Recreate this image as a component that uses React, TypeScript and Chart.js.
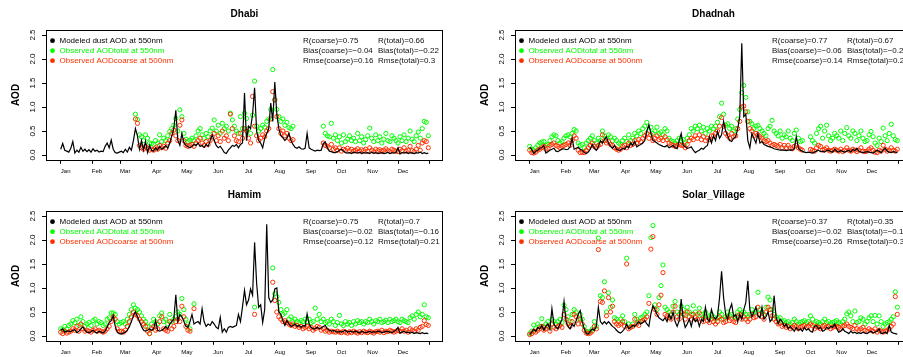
import React, { useEffect, useRef } from "react";
import { Chart, registerables } from "chart.js";

Chart.register(...registerables);

const _ = null;

// ---------- axes / categories ----------
const monthLabels = ["Jan", "Feb", "Mar", "Apr", "May", "Jun", "Jul", "Aug", "Sep", "Oct", "Nov", "Dec"];
const monthStartDays = [1, 32, 60, 91, 121, 152, 182, 213, 244, 274, 305, 335, 366];
const yTickValues = [0, 0.5, 1.0, 1.5, 2.0, 2.5];
// sampled day-of-year positions (every second day, Jan 1 .. Dec 31)
const sampleDays: number[] = Array.from({ length: 183 }, (_v, i) => 1 + 2 * i);

const legendLabels = ["Modeled dust AOD at 550nm", "Observed AODtotal at 550nm", "Observed AODcoarse at 500nm"];

// ---------- Dhabi ----------
const dhabiModel = [
  0.12, 0.24, 0.10, 0.08, 0.06, 0.14, 0.28, 0.04, 0.10, 0.06, 0.16, 0.08, 0.12, 0.07, 0.11, 0.06,
  0.13, 0.08, 0.10, 0.06, 0.08, 0.07, 0.18, 0.25, 0.15, 0.31, 0.12, 0.05, 0.04, 0.06,
  0.08, 0.05, 0.12, 0.06, 0.16, 0.10, 0.30, 0.55, 0.40, 0.12, 0.30, 0.10, 0.28, 0.05, 0.20,
  0.10, 0.08, 0.15, 0.10, 0.18, 0.12, 0.15, 0.20, 0.14, 0.25, 0.40, 0.55, 0.93, 0.30, 0.20,
  0.45, 0.25, 0.20, 0.17, 0.15, 0.18, 0.22, 0.20, 0.25, 0.18, 0.20, 0.16, 0.22, 0.18, 0.30, 0.42,
  0.30, 0.20, 0.15, 0.18, 0.12, 0.05, 0.03, 0.10, 0.15, 0.20, 0.18, 0.22, 0.15, 0.22, 0.25,
  1.29, 0.30, 0.60, 0.55, 0.85, 1.40, 0.50, 0.30, 0.25, 0.15, 0.35, 0.45, 0.55, 1.08, 0.70,
  1.52, 0.85, 0.55, 0.40, 0.36, 0.30, 0.35, 0.45, 0.30, 0.22, 0.16, 0.14, 0.17, 0.13, 0.12, 0.14,
  0.45, 0.15, 0.12, 0.10, 0.08, 0.10, 0.09, 0.10, 0.24, 0.27, 0.15, 0.08, 0.07, 0.05, 0.05,
  0.07, 0.10, 0.12, 0.08, 0.05, 0.04, 0.05, 0.03, 0.06, 0.05, 0.04, 0.06, 0.03, 0.05, 0.04,
  0.05, 0.03, 0.06, 0.04, 0.05, 0.03, 0.04, 0.05, 0.03, 0.04, 0.06, 0.03, 0.05, 0.04, 0.05,
  0.15, 0.02, 0.05, 0.04, 0.06, 0.03, 0.05, 0.04, 0.03, 0.05, 0.04, 0.06, 0.03, 0.05, 0.03, 0.04,
];
const dhabiTotal = [
  _, _, _, _, _, _, _, _, _, _, _, _, _, _, _, _,
  _, _, _, _, _, _, _, _, _, _, _, _, _, _,
  _, _, _, _, _, _, _, 0.85, 0.74, 0.42, 0.38, 0.30, 0.42, 0.35, 0.25,
  0.24, 0.22, 0.30, 0.25, 0.42, 0.28, 0.35, 0.30, 0.40, 0.49, 0.55, 0.62, 0.76, 0.50, 0.94,
  0.80, 0.45, 0.33, 0.28, 0.31, 0.35, 0.30, 0.40, 0.50, 0.55, 0.42, 0.35, 0.45, 0.38, 0.50, 0.56,
  0.73, 0.50, 0.62, 0.45, 0.66, 0.55, 0.60, 0.50, 0.87, 0.73, 0.60, 0.50, 0.45, 0.80, 0.55,
  0.87, 0.76, 0.55, 0.45, 0.83, 1.54, 0.60, 0.50, 0.55, 0.62, 0.58, 0.70, 0.75, 0.95, 1.78,
  1.15, 0.95, 0.80, 0.70, 0.75, 0.62, 0.68, 0.57, 0.55, 0.60, _, _, _, _, _, _,
  _, _, _, _, _, _, _, _, 0.60, 0.45, 0.40, 0.38, 0.66, 0.35, 0.42,
  0.30, 0.38, 0.25, 0.42, 0.28, 0.33, 0.40, 0.30, 0.35, 0.28, 0.45, 0.30, 0.38, 0.25, 0.32,
  0.40, 0.56, 0.35, 0.28, 0.42, 0.30, 0.38, 0.25, 0.33, 0.45, 0.30, 0.28, 0.40, 0.35, 0.30,
  0.25, 0.38, 0.30, 0.42, 0.28, 0.35, 0.50, 0.33, 0.28, 0.40, 0.48, 0.35, 0.55, 0.70, 0.68, 0.40,
];
const dhabiCoarse = [
  _, _, _, _, _, _, _, _, _, _, _, _, _, _, _, _,
  _, _, _, _, _, _, _, _, _, _, _, _, _, _,
  _, _, _, _, _, _, _, 0.75, 0.66, 0.20, 0.15, 0.12, 0.18, 0.14, 0.10,
  0.12, 0.10, 0.15, 0.12, 0.20, 0.15, 0.18, 0.14, 0.25, 0.30, 0.45, 0.52, 0.40, 0.30, 0.62,
  0.73, 0.30, 0.20, 0.18, 0.20, 0.22, 0.18, 0.25, 0.30, 0.35, 0.25, 0.20, 0.28, 0.22, 0.30, 0.38,
  0.45, 0.30, 0.40, 0.28, 0.50, 0.35, 0.40, 0.30, 0.85, 0.55, 0.40, 0.30, 0.28, 0.45, 0.35,
  0.55, 0.50, 0.35, 0.25, 1.22, 0.60, 0.40, 0.30, 0.35, 0.42, 0.38, 0.50, 0.55, 0.75, 1.32,
  1.15, 0.80, 0.55, 0.45, 0.50, 0.40, 0.45, 0.35, 0.30, 0.32, _, _, _, _, _, _,
  _, _, _, _, _, _, _, _, 0.25, 0.20, 0.18, 0.15, 0.22, 0.12, 0.15,
  0.10, 0.15, 0.08, 0.12, 0.10, 0.14, 0.09, 0.12, 0.08, 0.10, 0.13, 0.08, 0.11, 0.09, 0.12,
  0.08, 0.15, 0.10, 0.07, 0.12, 0.09, 0.11, 0.08, 0.10, 0.13, 0.09, 0.07, 0.12, 0.10, 0.08,
  0.07, 0.12, 0.09, 0.15, 0.08, 0.10, 0.18, 0.09, 0.07, 0.12, 0.20, 0.10, 0.25, 0.30, 0.28, 0.15,
];
const dhabiStats = ["R(coarse)=0.75", "R(total)=0.66", "Bias(coarse)=\u22120.04", "Bias(total)=\u22120.22", "Rmse(coarse)=0.16", "Rmse(total)=0.3"];

// ---------- Dhadnah ----------
const dhadnahModel = [
  0.17, 0.12, 0.03, 0.08, 0.10, 0.14, 0.15, 0.20, 0.04, 0.07, 0.10, 0.12, 0.14, 0.08, 0.07, 0.10,
  0.12, 0.13, 0.11, 0.12, 0.17, 0.35, 0.12, 0.14, 0.16, 0.12, 0.10, 0.05, 0.03, 0.06,
  0.12, 0.22, 0.14, 0.10, 0.17, 0.30, 0.25, 0.32, 0.38, 0.25, 0.18, 0.14, 0.20, 0.12, 0.10,
  0.10, 0.14, 0.12, 0.18, 0.15, 0.25, 0.20, 0.28, 0.17, 0.20, 0.22, 0.25, 0.30, 0.50, 0.63,
  0.45, 0.30, 0.28, 0.25, 0.22, 0.20, 0.18, 0.17, 0.20, 0.15, 0.17, 0.20, 0.15, 0.13, 0.30, 0.45,
  0.20, 0.17, 0.14, 0.15, 0.17, 0.10, 0.05, 0.08, 0.10, 0.14, 0.12, 0.17, 0.20, 0.38, 0.25,
  0.40, 0.30, 0.49, 0.35, 0.42, 0.70, 0.50, 0.40, 0.30, 0.28, 0.35, 0.38, 0.55, 0.80, 2.33,
  0.80, 0.85, 0.30, 0.15, 0.45, 0.35, 0.25, 0.45, 0.25, 0.28, 0.22, 0.20, 0.18, 0.17, 0.15, 0.13,
  0.12, 0.11, 0.10, 0.10, 0.10, 0.09, 0.10, 0.10, 0.10, 0.13, 0.38, 0.15, 0.10, 0.08, 0.06,
  0.05, 0.06, 0.05, 0.04, 0.06, 0.08, 0.10, 0.07, 0.08, 0.06, 0.09, 0.10, 0.07, 0.06, 0.12,
  0.08, 0.06, 0.10, 0.07, 0.06, 0.08, 0.10, 0.06, 0.12, 0.09, 0.14, 0.08, 0.06, 0.05, 0.06,
  0.07, 0.06, 0.05, 0.04, 0.07, 0.10, 0.08, 0.05, 0.10, 0.14, 0.08, 0.06, 0.05, 0.07, 0.06, 0.05,
];
const dhadnahTotal = [
  0.18, 0.12, 0.10, 0.15, 0.20, 0.25, 0.27, 0.28, 0.20, 0.22, 0.30, 0.38, 0.42, 0.40, 0.30, 0.25,
  0.28, 0.35, 0.40, 0.42, 0.38, 0.45, 0.53, 0.50, 0.25, 0.20, 0.22, 0.15, 0.25, 0.30,
  0.35, 0.40, 0.30, 0.25, 0.35, 0.30, 0.50, 0.40, 0.35, 0.42, 0.38, 0.30, 0.35, 0.30, 0.25,
  0.22, 0.30, 0.35, 0.28, 0.42, 0.30, 0.35, 0.45, 0.40, 0.50, 0.45, 0.55, 0.60, 0.68, 0.50,
  0.58, 0.45, 0.50, 0.58, 0.45, 0.48, 0.42, 0.55, 0.50, 0.35, 0.30, 0.28, 0.25, 0.30, 0.35, 0.30,
  0.32, 0.25, 0.35, 0.42, 0.55, 0.50, 0.60, 0.55, 0.62, 0.50, 0.58, 0.45, 0.55, 0.50, 0.60,
  0.55, 0.60, 0.68, 0.80, 1.08, 0.85, 0.62, 0.65, 0.55, 0.60, 0.50, 0.55, 0.75, 0.95, 1.30,
  1.45, 1.20, 0.90, 0.70, 0.65, 0.55, 0.60, 0.62, 0.55, 0.50, 0.45, 0.40, 0.55, 0.60, 0.72, 0.50,
  0.45, 0.40, 0.50, 0.35, 0.42, 0.38, 0.50, 0.35, 0.30, 0.45, 0.52, 0.35, 0.28, 0.30, _,
  _, _, 0.38, 0.30, 0.25, 0.45, 0.55, 0.60, 0.35, 0.50, 0.62, 0.40, 0.30, 0.35, 0.45,
  0.40, 0.35, 0.50, 0.30, 0.45, 0.57, 0.40, 0.35, 0.50, 0.45, 0.30, 0.40, 0.50, 0.35, 0.28,
  0.30, 0.42, 0.49, 0.38, 0.25, 0.20, 0.35, 0.28, 0.56, 0.40, 0.30, 0.45, 0.64, 0.40, 0.32, 0.30,
];
const dhadnahCoarse = [
  0.10, 0.05, 0.04, 0.06, 0.10, 0.12, 0.15, 0.18, 0.12, 0.14, 0.20, 0.22, 0.25, 0.20, 0.18, 0.15,
  0.18, 0.20, 0.22, 0.25, 0.20, 0.30, 0.40, 0.35, 0.10, 0.05, 0.06, 0.05, 0.10, 0.15,
  0.20, 0.25, 0.18, 0.15, 0.20, 0.22, 0.42, 0.30, 0.25, 0.28, 0.22, 0.20, 0.15, 0.12, 0.10,
  0.12, 0.18, 0.20, 0.15, 0.25, 0.20, 0.22, 0.30, 0.25, 0.32, 0.28, 0.35, 0.40, 0.45, 0.35,
  0.42, 0.30, 0.35, 0.40, 0.32, 0.35, 0.30, 0.38, 0.32, 0.25, 0.22, 0.20, 0.18, 0.20, 0.22, 0.20,
  0.20, 0.15, 0.22, 0.30, 0.35, 0.32, 0.40, 0.35, 0.42, 0.32, 0.38, 0.30, 0.35, 0.32, 0.40,
  0.40, 0.45, 0.50, 0.60, 0.78, 0.60, 0.45, 0.40, 0.35, 0.45, 0.38, 0.40, 0.55, 0.70, 1.00,
  1.02, 0.90, 0.70, 0.55, 0.50, 0.40, 0.45, 0.42, 0.38, 0.35, 0.30, 0.28, 0.30, 0.25, 0.20, 0.22,
  0.20, 0.18, 0.22, 0.15, 0.20, 0.15, 0.20, 0.15, 0.13, 0.18, 0.20, 0.15, 0.12, 0.10, _,
  _, _, 0.12, 0.10, 0.08, 0.15, 0.20, 0.18, 0.10, 0.12, 0.15, 0.10, 0.08, 0.10, 0.12,
  0.10, 0.08, 0.12, 0.07, 0.10, 0.15, 0.10, 0.08, 0.12, 0.10, 0.07, 0.10, 0.15, 0.08, 0.07,
  0.08, 0.12, 0.15, 0.10, 0.06, 0.05, 0.10, 0.08, 0.20, 0.12, 0.08, 0.10, 0.15, 0.10, 0.08, 0.12,
];
const dhadnahStats = ["R(coarse)=0.77", "R(total)=0.67", "Bias(coarse)=\u22120.06", "Bias(total)=\u22120.22", "Rmse(coarse)=0.14", "Rmse(total)=0.24"];

// ---------- Hamim ----------
const hamimModel = [
  0.12, 0.15, 0.08, 0.10, 0.10, 0.09, 0.12, 0.13, 0.07, 0.10, 0.15, 0.19, 0.12, 0.08, 0.07, 0.09,
  0.12, 0.08, 0.06, 0.10, 0.08, 0.06, 0.10, 0.19, 0.28, 0.32, 0.43, 0.20, 0.08, 0.05,
  0.04, 0.06, 0.08, 0.12, 0.20, 0.30, 0.42, 0.50, 0.40, 0.30, 0.20, 0.12, 0.10, 0.12, 0.15,
  0.12, 0.15, 0.32, 0.12, 0.10, 0.12, 0.15, 0.20, 0.15, 0.25, 0.30, 0.35, 0.86, 0.30, 0.45,
  0.40, 0.30, 0.20, 0.18, 0.30, 0.45, 0.25, 0.28, 0.30, 0.25, 0.57, 0.30, 0.20, 0.25, 0.22, 0.30,
  0.25, 0.18, 0.15, 0.39, 0.08, 0.15, 0.08, 0.18, 0.20, 0.18, 0.20, 0.22, 0.45, 0.30, 0.60,
  0.95, 0.65, 0.75, 0.98, 0.85, 1.95, 1.10, 0.60, 0.65, 0.28, 0.55, 2.33, 0.80, 0.70, 0.75,
  0.98, 1.00, 0.50, 0.45, 0.32, 0.22, 0.32, 0.25, 0.20, 0.22, 0.25, 0.20, 0.22, 0.18, 0.22, 0.20,
  0.46, 0.25, 0.18, 0.15, 0.15, 0.18, 0.15, 0.17, 0.20, 0.22, 0.15, 0.12, 0.10, 0.11, 0.10,
  0.08, 0.09, 0.08, 0.10, 0.12, 0.08, 0.10, 0.09, 0.08, 0.10, 0.08, 0.06, 0.10, 0.08, 0.07,
  0.08, 0.10, 0.07, 0.09, 0.08, 0.10, 0.09, 0.07, 0.08, 0.10, 0.09, 0.08, 0.07, 0.10, 0.12,
  0.18, 0.06, 0.08, 0.10, 0.07, 0.08, 0.06, 0.08, 0.05, 0.07, 0.06, 0.05, 0.07, 0.05, 0.06, 0.05,
];
const hamimTotal = [
  0.15, 0.13, 0.20, 0.15, 0.22, 0.25, 0.32, 0.28, 0.35, 0.22, 0.40, 0.30, 0.20, 0.25, 0.28, 0.22,
  0.32, 0.35, 0.25, 0.30, 0.28, 0.22, 0.25, 0.35, 0.38, 0.48, 0.48, 0.45, 0.30, 0.25,
  0.28, 0.30, 0.25, 0.35, 0.45, 0.55, 0.65, 0.58, 0.55, 0.50, 0.42, 0.35, 0.30, 0.20, 0.05,
  0.25, 0.35, 0.30, 0.25, 0.42, 0.48, 0.30, 0.35, 0.25, 0.45, 0.30, 0.35, 0.40, 0.50, 0.45,
  0.78, 0.55, 0.35, 0.25, 0.15, _, 0.67, _, _, _, _, _, _, _, _, _,
  _, _, _, _, _, _, _, _, _, _, _, _, _, _, _,
  _, _, _, _, _, 0.60, _, _, _, _, _, _, _, _, 1.42,
  0.88, 0.82, 0.70, 0.55, 0.45, 0.48, 0.55, 0.35, 0.40, 0.30, 0.35, 0.30, 0.28, 0.32, 0.30, 0.35,
  0.30, 0.35, 0.28, 0.30, 0.58, 0.35, 0.45, 0.30, 0.35, 0.28, 0.30, 0.25, 0.35, 0.30, 0.22,
  0.28, 0.43, 0.25, 0.22, 0.30, 0.25, 0.28, 0.22, 0.30, 0.25, 0.32, 0.28, 0.30, 0.25, 0.30,
  0.28, 0.35, 0.30, 0.25, 0.32, 0.30, 0.35, 0.28, 0.30, 0.33, 0.28, 0.35, 0.30, 0.32, 0.35,
  0.30, 0.28, 0.35, 0.32, 0.30, 0.28, 0.38, 0.42, 0.35, 0.45, 0.50, 0.40, 0.45, 0.65, 0.40, 0.38,
];
const hamimCoarse = [
  0.08, 0.05, 0.10, 0.06, 0.08, 0.10, 0.15, 0.12, 0.20, 0.10, 0.25, 0.15, 0.10, 0.12, 0.10, 0.08,
  0.12, 0.15, 0.10, 0.12, 0.10, 0.08, 0.10, 0.15, 0.20, 0.30, 0.40, 0.35, 0.15, 0.10,
  0.10, 0.08, 0.12, 0.20, 0.30, 0.40, 0.50, 0.45, 0.42, 0.35, 0.30, 0.25, 0.20, 0.10, 0.05,
  0.15, 0.20, 0.12, 0.15, 0.30, 0.40, 0.15, 0.12, 0.10, 0.30, 0.15, 0.20, 0.30, 0.35, 0.30,
  0.62, 0.40, 0.20, 0.12, 0.10, _, 0.57, _, _, _, _, _, _, _, _, _,
  _, _, _, _, _, _, _, _, _, _, _, _, _, _, _,
  _, _, _, _, _, 0.45, _, _, _, _, _, _, _, _, 1.12,
  0.74, 0.50, 0.40, 0.35, 0.30, 0.32, 0.28, 0.25, 0.22, 0.25, 0.20, 0.22, 0.18, 0.20, 0.15, 0.18,
  0.20, 0.15, 0.18, 0.12, 0.15, 0.20, 0.18, 0.12, 0.15, 0.10, 0.12, 0.08, 0.10, 0.09, 0.08,
  0.10, 0.08, 0.07, 0.10, 0.08, 0.06, 0.09, 0.07, 0.10, 0.08, 0.06, 0.09, 0.07, 0.10, 0.08,
  0.07, 0.10, 0.08, 0.06, 0.09, 0.10, 0.08, 0.12, 0.07, 0.10, 0.09, 0.12, 0.10, 0.08, 0.10,
  0.12, 0.10, 0.15, 0.10, 0.12, 0.08, 0.15, 0.12, 0.10, 0.15, 0.12, 0.18, 0.20, 0.32, 0.24, 0.22,
];
const hamimStats = ["R(coarse)=0.75", "R(total)=0.7", "Bias(coarse)=\u22120.02", "Bias(total)=\u22120.16", "Rmse(coarse)=0.12", "Rmse(total)=0.21"];

// ---------- Solar_Village ----------
const solarModel = [
  0.03, 0.08, 0.14, 0.10, 0.18, 0.15, 0.22, 0.12, 0.20, 0.25, 0.14, 0.57, 0.25, 0.18, 0.15, 0.25,
  0.35, 0.72, 0.30, 0.20, 0.15, 0.25, 0.20, 0.32, 0.45, 0.53, 0.30, 0.15, 0.05, 0.04,
  0.10, 0.15, 0.12, 0.20, 0.60, 0.30, 0.25, 0.30, 0.25, 0.30, 0.25, 0.20, 0.17, 0.12, 0.08,
  0.06, 0.10, 0.15, 0.25, 0.15, 0.18, 0.22, 0.20, 0.25, 0.30, 0.25, 0.28, 0.32, 0.25, 0.20,
  0.46, 0.63, 0.55, 0.45, 0.38, 0.35, 0.32, 0.38, 0.30, 0.45, 0.35, 0.50, 0.30, 0.20, 0.32, 0.77,
  0.35, 0.18, 0.25, 0.35, 0.20, 0.38, 0.30, 0.35, 0.20, 0.35, 0.30, 0.60, 0.35, 0.30, 0.55,
  0.40, 0.35, 0.42, 0.80, 1.35, 0.80, 0.45, 0.35, 0.55, 0.67, 0.40, 0.45, 0.30, 0.45, 0.35,
  0.55, 0.70, 1.15, 0.55, 0.40, 0.50, 0.60, 0.42, 0.38, 0.60, 0.35, 0.40, 0.50, 0.30, 0.35, 0.84,
  0.40, 0.25, 0.35, 0.30, 0.20, 0.25, 0.15, 0.20, 0.15, 0.10, 0.18, 0.12, 0.15, 0.10, 0.18,
  0.12, 0.15, 0.10, 0.08, 0.20, 0.22, 0.15, 0.18, 0.10, 0.12, 0.18, 0.15, 0.20, 0.18, 0.25,
  0.15, 0.08, 0.10, 0.15, 0.10, 0.08, 0.05, 0.10, 0.06, 0.08, 0.05, 0.07, 0.05, 0.08, 0.06,
  0.05, 0.08, 0.10, 0.06, 0.08, 0.10, 0.15, 0.05, 0.06, 0.08, 0.05, 0.22, 0.08, 0.06, 0.05, 0.04,
];
const solarTotal = [
  0.05, 0.10, 0.23, 0.15, 0.25, 0.20, 0.36, 0.20, 0.25, 0.30, 0.18, 0.35, 0.30, 0.25, 0.30, 0.35,
  0.28, 0.64, 0.55, 0.40, 0.30, 0.45, 0.55, 0.50, 0.35, 0.45, 0.35, 0.20, 0.10, 0.08,
  0.10, 0.15, 0.30, 0.20, 2.04, 0.84, 0.80, 1.13, 0.50, 0.90, 0.60, 0.75, 0.38, 0.35, 0.30,
  0.35, 0.42, 0.30, 1.62, 0.25, 0.20, 0.25, 0.45, 0.35, 0.30, 0.38, 0.40, 0.45, 0.50, 0.84,
  2.05, 2.30, 0.65, 0.55, 0.80, 1.05, 1.48, 0.60, 0.55, 0.50, 0.45, 0.62, 0.72, 0.50, 0.45, 0.62,
  0.55, 0.45, 0.60, 0.50, 0.45, 0.63, 0.50, 0.45, 0.58, 0.45, 0.40, 0.50, 0.42, 0.38, 0.45,
  0.40, 0.35, 0.38, 0.50, 0.45, 0.35, 0.40, 0.50, 0.42, 0.45, 0.40, 0.38, 0.50, 0.55, 0.45,
  0.50, 0.45, 0.40, 0.45, 0.55, 0.48, 0.50, 0.91, 0.55, 0.50, 0.45, 0.60, 0.81, 0.75, 0.55, 0.45,
  0.40, 0.35, 0.38, 0.30, 0.32, 0.28, 0.30, 0.25, 0.28, 0.35, 0.30, 0.25, 0.28, 0.30, 0.32,
  0.28, 0.30, 0.42, 0.35, 0.25, 0.30, 0.28, 0.25, 0.30, 0.35, 0.28, 0.30, 0.25, 0.28, 0.30,
  0.32, 0.28, 0.25, 0.30, 0.35, 0.46, 0.50, 0.42, 0.30, 0.52, 0.28, 0.30, 0.38, 0.35, 0.25,
  0.30, 0.38, 0.42, 0.30, 0.43, 0.25, 0.42, 0.30, 0.20, 0.25, 0.28, 0.30, 0.35, 0.40, 0.92, 0.60,
];
const solarCoarse = [
  0.03, 0.05, 0.10, 0.08, 0.12, 0.15, 0.20, 0.12, 0.15, 0.20, 0.10, 0.25, 0.18, 0.15, 0.20, 0.22,
  0.18, 0.45, 0.35, 0.25, 0.20, 0.30, 0.45, 0.40, 0.25, 0.35, 0.25, 0.12, 0.06, 0.05,
  0.06, 0.10, 0.20, 0.15, 1.80, 0.72, 0.70, 0.94, 0.42, 0.80, 0.50, 0.62, 0.30, 0.25, 0.22,
  0.25, 0.30, 0.20, 1.50, 0.15, 0.18, 0.20, 0.35, 0.25, 0.22, 0.30, 0.32, 0.35, 0.40, 0.68,
  1.81, 2.07, 0.55, 0.45, 0.65, 0.85, 1.32, 0.45, 0.42, 0.38, 0.35, 0.50, 0.62, 0.40, 0.35, 0.50,
  0.45, 0.35, 0.50, 0.40, 0.35, 0.45, 0.40, 0.35, 0.48, 0.35, 0.30, 0.40, 0.32, 0.28, 0.35,
  0.30, 0.25, 0.30, 0.40, 0.35, 0.28, 0.30, 0.40, 0.32, 0.35, 0.30, 0.28, 0.40, 0.45, 0.35,
  0.40, 0.35, 0.30, 0.35, 0.45, 0.38, 0.40, 0.60, 0.45, 0.40, 0.35, 0.50, 0.60, 0.55, 0.42, 0.35,
  0.30, 0.25, 0.28, 0.20, 0.22, 0.18, 0.20, 0.15, 0.18, 0.22, 0.20, 0.15, 0.18, 0.20, 0.22,
  0.18, 0.20, 0.25, 0.22, 0.15, 0.20, 0.18, 0.15, 0.20, 0.22, 0.18, 0.20, 0.15, 0.18, 0.20,
  0.20, 0.18, 0.15, 0.20, 0.22, 0.25, 0.20, 0.18, 0.15, 0.22, 0.15, 0.12, 0.15, 0.18, 0.12,
  0.10, 0.15, 0.12, 0.10, 0.15, 0.08, 0.12, 0.10, 0.08, 0.10, 0.12, 0.15, 0.20, 0.25, 0.82, 0.45,
];
const solarStats = ["R(coarse)=0.37", "R(total)=0.35", "Bias(coarse)=\u22120.02", "Bias(total)=\u22120.14", "Rmse(coarse)=0.26", "Rmse(total)=0.31"];

// ---------- styling ----------
const FONT = '"Liberation Sans", Arial, Helvetica, sans-serif';
const BLACK = "#000000";
const GREEN = "#00FF00";
const RED = "#FF3000";
const seriesColors = [BLACK, GREEN, RED];

const CW = 451;
const CH = 178;

type Arr = (number | null)[];
interface PanelProps {
  title: string;
  model: Arr;
  total: Arr;
  coarse: Arr;
  stats: string[];
  left: number;
  top: number;
}

function Panel({ title, model, total, coarse, stats, left, top }: PanelProps) {
  const ref = useRef<HTMLCanvasElement | null>(null);

  useEffect(() => {
    const canvas = ref.current;
    if (!canvas) return;
    const toPts = (arr: Arr) => sampleDays.map((d, i) => ({ x: d, y: arr[i] ?? null }));

    const overlay = {
      id: "overlay",
      afterDraw(chart: any) {
        const { ctx, chartArea: a, scales } = chart;
        ctx.save();
        // plot box
        ctx.strokeStyle = BLACK;
        ctx.lineWidth = 1;
        const l = Math.round(a.left), t = Math.round(a.top), r = Math.round(a.right), b = Math.round(a.bottom);
        ctx.strokeRect(l + 0.5, t + 0.5, r - l - 1, b - t);

        // title
        ctx.fillStyle = BLACK;
        ctx.font = `bold 10px ${FONT}`;
        ctx.textAlign = "center";
        ctx.textBaseline = "middle";
        ctx.fillText(title, (a.left + a.right) / 2, 14.5);

        // y axis title
        ctx.save();
        ctx.translate(16, (a.top + a.bottom) / 2);
        ctx.rotate(-Math.PI / 2);
        ctx.fillText("AOD", 0, 0);
        ctx.restore();

        // y tick labels (rotated, like R)
        ctx.font = `8px ${FONT}`;
        for (const v of yTickValues) {
          const py = scales.y.getPixelForValue(v);
          ctx.save();
          ctx.translate(a.left - 13.5, py);
          ctx.rotate(-Math.PI / 2);
          ctx.fillText(v.toFixed(1), 0, 0);
          ctx.restore();
        }

        // legend
        ctx.textAlign = "left";
        for (let i = 0; i < legendLabels.length; i++) {
          const cy = a.top + 10.5 + 10 * i;
          ctx.fillStyle = seriesColors[i];
          ctx.beginPath();
          ctx.arc(a.left + 6.5, cy, 2.4, 0, Math.PI * 2);
          ctx.fill();
          ctx.fillText(legendLabels[i], a.left + 13.5, cy);
        }

        // statistics
        ctx.fillStyle = "#111";
        for (let i = 0; i < 3; i++) {
          const cy = a.top + 10.5 + 10 * i;
          ctx.fillText(stats[2 * i], a.left + 257, cy);
          ctx.fillText(stats[2 * i + 1], a.left + 332, cy);
        }
        ctx.restore();
      },
    };

    const tickGrid = {
      display: true,
      drawOnChartArea: false,
      drawTicks: true,
      tickLength: 4,
      color: BLACK,
      lineWidth: 1,
    };

    const chart = new Chart(canvas, {
      type: "scatter",
      data: {
        datasets: [
          {
            type: "line",
            label: legendLabels[0],
            data: toPts(model),
            borderColor: BLACK,
            borderWidth: 1.2,
            pointRadius: 0,
            fill: false,
            tension: 0,
          } as any,
          {
            label: legendLabels[2],
            data: toPts(coarse),
            borderColor: RED,
            backgroundColor: "rgba(0,0,0,0)",
            borderWidth: 1,
            pointRadius: 2.1,
          },
          {
            label: legendLabels[1],
            data: toPts(total),
            borderColor: GREEN,
            backgroundColor: "rgba(0,0,0,0)",
            borderWidth: 1,
            pointRadius: 2.1,
          },
        ],
      },
      options: {
        responsive: false,
        animation: false,
        devicePixelRatio: 1,
        layout: { padding: { left: 0, right: 8, top: 30.2, bottom: 0 } },
        plugins: { legend: { display: false }, tooltip: { enabled: false }, title: { display: false } },
        scales: {
          x: {
            type: "linear",
            min: -13.56,
            max: 379.56,
            grid: tickGrid,
            border: { display: false },
            afterFit: (s: any) => {
              s.height = 18.2;
            },
            afterBuildTicks: (s: any) => {
              s.ticks = monthStartDays.map((v) => ({ value: v }));
            },
            ticks: {
              autoSkip: false,
              maxRotation: 0,
              minRotation: 0,
              labelOffset: 5,
              padding: 4,
              color: BLACK,
              font: { family: FONT, size: 6 },
              callback: (_v: any, i: number) => monthLabels[i] ?? "",
            },
          },
          y: {
            type: "linear",
            min: -0.1,
            max: 2.6,
            grid: tickGrid,
            border: { display: false },
            afterFit: (s: any) => {
              s.width = 46;
            },
            afterBuildTicks: (s: any) => {
              s.ticks = yTickValues.map((v) => ({ value: v }));
            },
            ticks: { display: false },
          },
        },
      },
      plugins: [overlay],
    } as any);

    return () => chart.destroy();
  }, [title, model, total, coarse, stats]);

  return (
    <canvas
      ref={ref}
      width={CW}
      height={CH}
      style={{ position: "absolute", left, top, width: CW, height: CH }}
    />
  );
}

export default function App() {
  return (
    <div
      style={{
        position: "fixed",
        left: 0,
        top: 0,
        width: 903,
        height: 357,
        overflow: "hidden",
        background: "#ffffff",
      }}
    >
      <Panel title="Dhabi" model={dhabiModel} total={dhabiTotal} coarse={dhabiCoarse} stats={dhabiStats} left={0} top={0} />
      <Panel title="Dhadnah" model={dhadnahModel} total={dhadnahTotal} coarse={dhadnahCoarse} stats={dhadnahStats} left={469} top={0} />
      <Panel title="Hamim" model={hamimModel} total={hamimTotal} coarse={hamimCoarse} stats={hamimStats} left={0} top={181} />
      <Panel title="Solar_Village" model={solarModel} total={solarTotal} coarse={solarCoarse} stats={solarStats} left={469} top={181} />
    </div>
  );
}
